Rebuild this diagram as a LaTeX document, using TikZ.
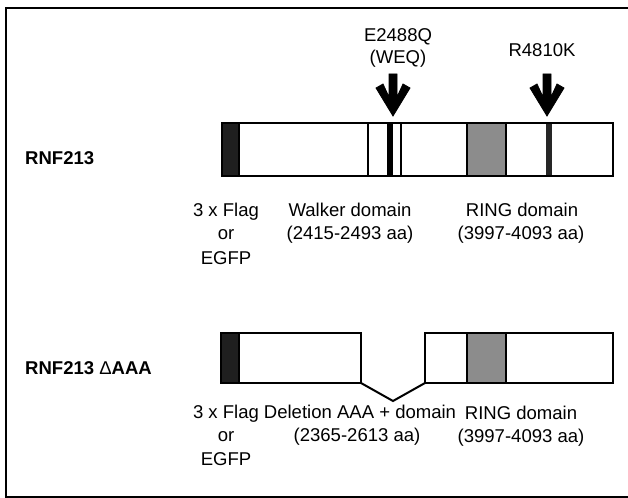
\documentclass[tikz,border=0pt]{standalone}
\usepackage{fontspec}
\setmainfont{Liberation Sans}
\begin{document}
\begin{tikzpicture}[x=1bp,y=-1bp,
  lbl/.style={inner sep=0pt, anchor=base, font=\fontsize{18.6}{22}\selectfont},
  lblb/.style={inner sep=0pt, anchor=base west, font=\fontsize{18.6}{22}\selectfont\bfseries},
  bar/.style={draw=black, line width=2bp},
  sep/.style={draw=black, line width=1.8bp},
  flagfill/.style={fill=black!88},
  ringfill/.style={fill=black!45},
  mutarrow/.style={fill=black, draw=black, line width=0.8bp, line join=miter}]
\useasboundingbox (0,0) rectangle (628,498);
% frame
\draw[line width=2bp] (630,8) -- (6,8) -- (6,497) -- (630,497);

% ---------- RNF213 ----------
\fill[flagfill] (222,123) rectangle (239,176);
\fill[ringfill] (467,123) rectangle (506,176);
\fill[black] (387,123) rectangle (393,176);
\fill[black!85] (546,123) rectangle (552,176);
\draw[bar] (222,123) rectangle (613,176);
\draw[sep] (239,123) -- (239,176);
\draw[sep] (368,123) -- (368,176);
\draw[sep] (401,123) -- (401,176);
\draw[sep] (467,123) -- (467,176);
\draw[sep] (506,123) -- (506,176);

% mutation arrows
\fill[mutarrow] (389,74) -- (397,74) -- (397,97) -- (403,84) -- (410,88) -- (393,116)
  -- (376,88) -- (383,84) -- (389,97) -- cycle;
\fill[mutarrow] (543,74) -- (551,74) -- (551,97) -- (557,84) -- (564,88) -- (547,116)
  -- (530,88) -- (537,84) -- (543,97) -- cycle;

\node[lbl] (e1) at (398,42) {E2488Q};
\node[lbl] (e2) at (398,64) {(WEQ)};
\node[lbl] (r1) at (542,57) {R4810K};

\node[lblb] (n1) at (25,165) {RNF213};
\node[lbl] (f1) at (226,217) {3 x Flag};
\node[lbl] (f2) at (226,240) {or};
\node[lbl] (f3) at (226,264) {EGFP};
\node[lbl] (w1) at (350,217) {Walker domain};
\node[lbl] (w2) at (350,240) {(2415-2493 aa)};
\node[lbl] (g1) at (522,217) {RING domain};
\node[lbl] (g2) at (521,240) {(3997-4093 aa)};

% ---------- RNF213 dAAA ----------
\fill[flagfill] (221,333) rectangle (239,383);
\fill[ringfill] (467,333) rectangle (506,383);
\draw[bar] (221,333) rectangle (361,383);
\draw[bar] (425,333) rectangle (613,383);
\draw[sep] (239,333) -- (239,383);
\draw[sep] (467,333) -- (467,383);
\draw[sep] (506,333) -- (506,383);
\coordinate (vl) at (361,383);
\coordinate (vm) at (393,401);
\coordinate (vr) at (425,383);
\draw[bar, line join=miter] (vl) -- (vm) -- (vr);

\node[lblb] (n2) at (25,374) {RNF213 {\mdseries Δ}AAA};
\node[lbl] (h1) at (226,418) {3 x Flag};
\node[lbl] (h2) at (226,441) {or};
\node[lbl] (h3) at (226,465) {EGFP};
\node[lbl] (d1) at (360,418) {Deletion AAA + domain};
\node[lbl] (d2) at (357,441) {(2365-2613 aa)};
\node[lbl] (k1) at (521,419) {RING domain};
\node[lbl] (k2) at (521,442) {(3997-4093 aa)};
\end{tikzpicture}
\end{document}
